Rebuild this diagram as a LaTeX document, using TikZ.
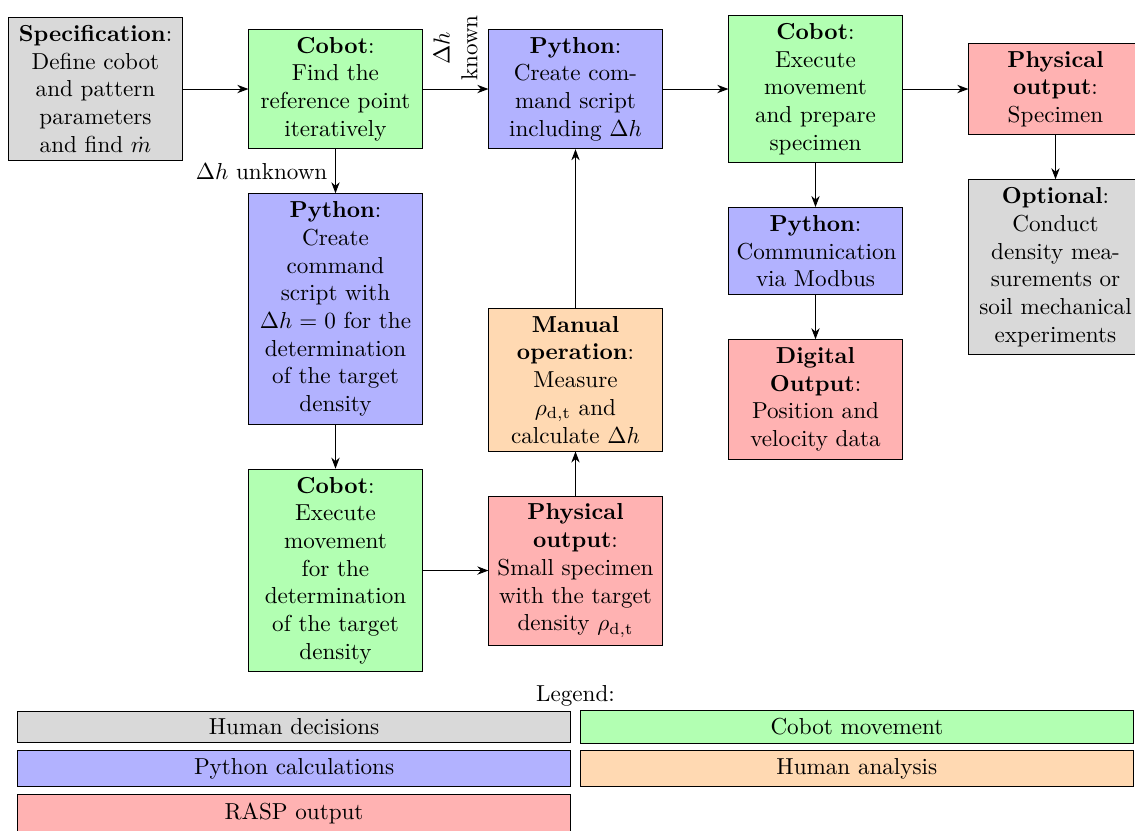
\documentclass[tikz,border=0pt]{standalone}
\usetikzlibrary{positioning,arrows.meta}
\tikzset{
  block/.style={draw, text width=2.4cm, align=center},
  humanbox/.style={block, fill=gray!30},
  cobotbox/.style={block, fill=green!30},
  pythonbox/.style={block, fill=blue!30},
  manualbox/.style={block, fill=orange!30},
  outbox/.style={block, fill=red!30},
  legbox/.style={draw, minimum width=8.4cm},
}
\begin{document}
\begin{tikzpicture}[>={Stealth}, node distance=0.67cm and 1cm]
    \useasboundingbox (-41.3pt,38.5pt) rectangle (449.6pt,-320.5pt);
    % main row
    \node[humanbox] (spec) at (0,0) {\textbf{Specification}:\\ Define cobot and pattern parameters and find $\dot{m}$};
    \node[cobotbox, right=of spec] (cobotA) {\textbf{Cobot}:\\ Find the reference point iteratively};
    \node[pythonbox, right=of cobotA] (pythonA) {\textbf{Python}:\\ Create command script including $\Delta h$};
    \node[cobotbox, right=of pythonA] (cobotB) {\textbf{Cobot}:\\ Execute movement and prepare specimen};
    \node[outbox, right=of cobotB] (physA) {\textbf{Physical output}:\\ Specimen};
    % calibration branch
    \node[pythonbox, below=of cobotA] (pythonB) {\textbf{Python}:\\ Create command script with $\Delta h=0$ for the determination of the target density};
    \node[cobotbox, below=of pythonB] (cobotC) {\textbf{Cobot}:\\ Execute movement for the determination of the target density};
    \node[outbox, right=of cobotC] (physB) {\textbf{Physical output}:\\ Small specimen with the target density $\rho_{\mathrm{d,t}}$};
    \node[manualbox, above=of physB] (manual) {\textbf{Manual operation}:\\ Measure $\rho_{\mathrm{d,t}}$ and calculate $\Delta h$};
    % outputs
    \node[pythonbox, below=of cobotB] (pythonC) {\textbf{Python}:\\ Communication\\ via Modbus};
    \node[outbox, below=of pythonC] (digital) {\textbf{Digital Output}:\\ Position and velocity data};
    \node[humanbox, below=of physA] (optional) {\textbf{Optional}:\\ Conduct density measurements or soil mechanical experiments};
    % connectors
    \draw[->] (spec) -- (cobotA);
    \draw[->] (cobotA) -- node[anchor=west, rotate=90, align=center] {$\Delta h$\\known} (pythonA);
    \draw[->] (cobotA) -- node[left] {$\Delta h$ unknown} (pythonB);
    \draw[->] (pythonB) -- (cobotC);
    \draw[->] (cobotC) -- (physB);
    \draw[->] (physB) -- (manual);
    \draw[->] (manual) -- (pythonA);
    \draw[->] (pythonA) -- (cobotB);
    \draw[->] (cobotB) -- (physA);
    \draw[->] (cobotB) -- (pythonC);
    \draw[->] (pythonC) -- (digital);
    \draw[->] (physA) -- (optional);
    % legend
    \node[anchor=north, yshift=-2pt] (legtitle) at (cobotC.south -| physB) {Legend:};
    \node[legbox, fill=gray!30, below left=-1.5pt and 2pt of legtitle.south] (leghuman) {Human decisions};
    \node[legbox, fill=green!30, right=4pt of leghuman] (legcobot) {Cobot movement};
    \node[legbox, fill=blue!30, below=3pt of leghuman] (legpython) {Python calculations};
    \node[legbox, fill=orange!30, right=4pt of legpython] (legmanual) {Human analysis};
    \node[legbox, fill=red!30, below=3pt of legpython] (legout) {RASP output};
\end{tikzpicture}
\end{document}
